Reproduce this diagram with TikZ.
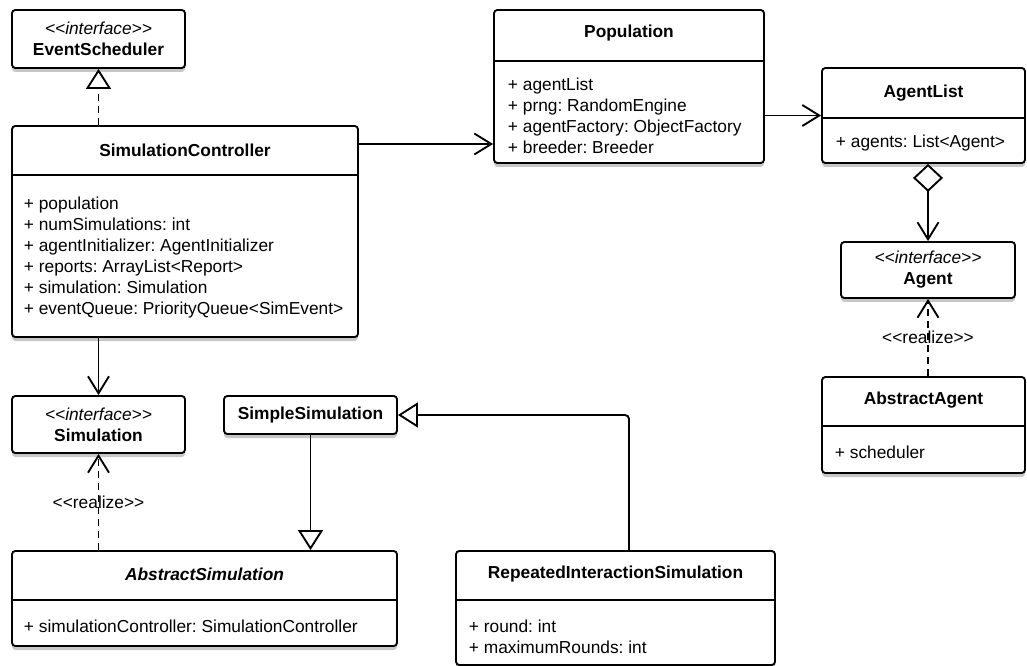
\documentclass[tikz,border=0pt]{standalone}
\usepackage{fontspec}
\setmainfont{Liberation Sans}
\usetikzlibrary{arrows.meta}
\usetikzlibrary{shadows}
\frenchspacing

\newcommand\strtp[1]{<\kern0pt<#1>\kern0pt>}

\tikzset{
  cls/.style={draw, rounded corners=2.5pt, fill=white, inner sep=0pt, align=center,
    drop shadow={shadow xshift=0pt, shadow yshift=-3pt, opacity=.22, fill=black}},
  ttl/.style={inner sep=0pt, font=\fontsize{13}{15.75}\selectfont\bfseries},
  attr/.style={anchor=west, inner sep=0pt, align=left},
  vee/.style={-{Straight Barb[length=12.75pt,width=15.75pt]}},
  inh/.style={-{Triangle[open,length=15pt,width=18.75pt,fill=white]}},
  real/.style={dash pattern=on 5.25pt off 3.75pt},
}

\begin{document}
\begin{tikzpicture}[x=0.75pt,y=-0.75pt,line width=1.4pt,font=\fontsize{13}{15.75}\selectfont]
\useasboundingbox (0,0) rectangle (1027,666);

\node[cls, minimum width=129.75pt, minimum height=43.5pt] (evs) at (98.5,39) {\textit{\strtp{interface}}\\\textbf{EventScheduler}};
\node[cls, minimum width=259.5pt, minimum height=158.25pt] (ctl) at (185,231.5) {};
\node[cls, minimum width=202.5pt, minimum height=114.75pt] (pop) at (629,86.5) {};
\node[cls, minimum width=152.25pt, minimum height=71.25pt] (alist) at (923.5,115.5) {};
\node[cls, minimum width=130.5pt, minimum height=42pt] (agent) at (928,270) {\textit{\strtp{interface}}\\\textbf{Agent}};
\node[cls, minimum width=152.25pt, minimum height=72pt] (aagent) at (923.5,425) {};
\node[cls, minimum width=129.75pt, minimum height=42.75pt] (sim) at (98.5,424.5) {\textit{\strtp{interface}}\\\textbf{Simulation}};
\node[cls, minimum width=129.75pt, minimum height=28.5pt] (ssim) at (310.5,415) {\textbf{SimpleSimulation}};
\node[cls, minimum width=288.75pt, minimum height=71.25pt] (asim) at (204.5,598.5) {};
\node[cls, minimum width=239.25pt, minimum height=85.5pt] (rsim) at (615.5,608) {};

\draw (ctl.west |- 0,175) -- (ctl.east |- 0,175);
\draw (pop.west |- 0,61) -- (pop.east |- 0,61);
\draw (alist.west |- 0,118) -- (alist.east |- 0,118);
\draw (aagent.west |- 0,426) -- (aagent.east |- 0,426);
\draw (asim.west |- 0,600) -- (asim.east |- 0,600);
\draw (rsim.west |- 0,600) -- (rsim.east |- 0,600);

\node[ttl] (ctlname) at (185,150) {SimulationController};
\node[attr] (ctlattr) at (23,257.5) {+ population\\+ numSimulations: int\\+ agentInitializer: AgentInitializer\\+ reports: ArrayList<Report>\\+ simulation: Simulation\\+ eventQueue: PriorityQueue<SimEvent>};
\node[ttl] (popname) at (629,33) {Population};
\node[attr] (popattr) at (507,116) {+ agentList\\+ prng: RandomEngine\\+ agentFactory: ObjectFactory\\+ breeder: Breeder};
\node[ttl] (alistname) at (923.5,93) {AgentList};
\node[attr] (alistattr) at (835,143) {+ agents: List<Agent>};
\node[ttl] (aagentname) at (923.5,400) {AbstractAgent};
\node[attr] (aagentattr) at (834,452) {+ scheduler};
\node[ttl, font=\fontsize{13}{15.75}\selectfont\bfseries\itshape] (asimname) at (204.5,574) {AbstractSimulation};
\node[attr] (asimattr) at (23,626) {+ simulationController: SimulationController};
\node[ttl] (rsimname) at (615.5,574) {RepeatedInteractionSimulation};
\node[attr] (rsimattr) at (468,636.5) {+ round: int\\+ maximumRounds: int};

\coordinate (ctlout) at (0,144);
\coordinate (rbend) at (629,415);

\draw[real,inh] (ctl.north -| evs.south) -- (evs.south);
\draw[vee] (ctl.east |- ctlout) -- (pop.west |- ctlout);
\draw[vee] (pop.east |- alist.west) -- (alist.west);
\draw[{Diamond[open,length=21pt,width=22.5pt,fill=white]}-{Straight Barb[length=12.75pt,width=15.75pt]}] (alist.south -| agent.north) -- (agent.north);
\draw[real,vee] (aagent.north -| agent.south) -- node[inner sep=0pt] (agentreal) {\strtp{realize}} (agent.south);
\draw[vee] (ctl.south -| sim.north) -- (sim.north);
\draw[real,vee] (asim.north -| sim.south) -- node[inner sep=0pt] (simreal) {\strtp{realize}} (sim.south);
\draw[inh] (ssim.south) -- (asim.north -| ssim.south);
\draw[inh, rounded corners=3pt] (rsim.north -| rbend) -- (rbend) -- (ssim.east);
\end{tikzpicture}
\end{document}
